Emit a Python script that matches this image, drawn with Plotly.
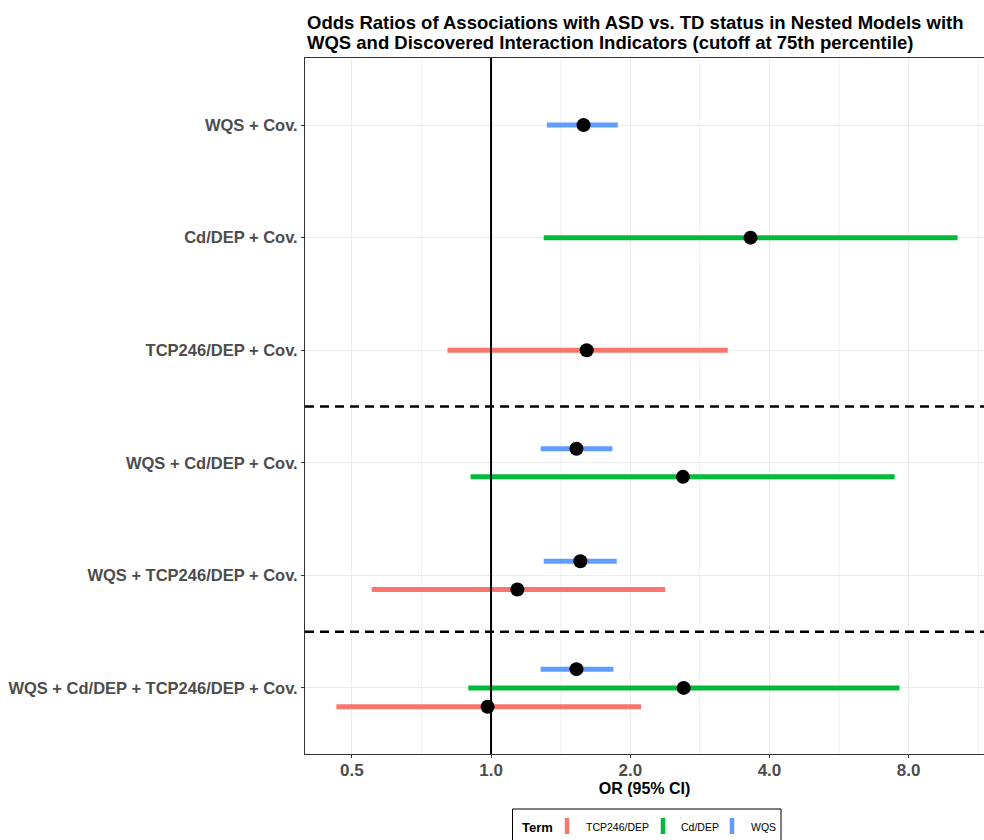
import numpy as np
import plotly.graph_objects as go

# ---- data ----
models = [
    "WQS + Cd/DEP + TCP246/DEP + Cov.",
    "WQS + TCP246/DEP + Cov.",
    "WQS + Cd/DEP + Cov.",
    "TCP246/DEP + Cov.",
    "Cd/DEP + Cov.",
    "WQS + Cov.",
]
terms = ["TCP246/DEP", "Cd/DEP", "WQS"]
term_colors = ["#F8766D", "#00BA38", "#619CFF"]

rows_model = ["WQS + Cov.", "Cd/DEP + Cov.", "TCP246/DEP + Cov.",
              "WQS + Cd/DEP + Cov.", "WQS + Cd/DEP + Cov.",
              "WQS + TCP246/DEP + Cov.", "WQS + TCP246/DEP + Cov.",
              "WQS + Cd/DEP + TCP246/DEP + Cov.", "WQS + Cd/DEP + TCP246/DEP + Cov.",
              "WQS + Cd/DEP + TCP246/DEP + Cov."]
rows_term = ["WQS", "Cd/DEP", "TCP246/DEP",
             "WQS", "Cd/DEP",
             "WQS", "TCP246/DEP",
             "WQS", "Cd/DEP", "TCP246/DEP"]
rows_or = [1.585, 3.64, 1.61, 1.53, 2.60, 1.56, 1.14, 1.53, 2.61, 0.983]
rows_lo = [1.32, 1.30, 0.805, 1.28, 0.903, 1.30, 0.552, 1.28, 0.893, 0.463]
rows_hi = [1.88, 10.2, 3.25, 1.83, 7.46, 1.87, 2.38, 1.84, 7.64, 2.11]

x_ticks = [0.5, 1.0, 2.0, 4.0, 8.0]
x_tick_labels = ["0.5", "1.0", "2.0", "4.0", "8.0"]
separators = [1.5, 3.5]

title_lines = ["Odds Ratios of Associations with ASD vs. TD status in Nested Models with",
               "WQS and Discovered Interaction Indicators (cutoff at 75th percentile)"]

colors = dict(zip(terms, term_colors))

# ---- figure geometry (page body margin removed via post_script) ----
W, H = 984, 840
ML, MR, MT, MB = 305, 0, 58, 86
PW, PH = W - ML - MR, H - MT - MB


def px(xpage):
    return (xpage - ML) / PW


def py(ypage):
    return (H - MB - ypage) / PH


# ---- dodge positions (width 0.5), WQS on top ----
dodge_w = 0.5
ypos = []
for m, t in zip(rows_model, rows_term):
    group = [tt for mm, tt in zip(rows_model, rows_term) if mm == m]
    order = [tt for tt in ["WQS", "Cd/DEP", "TCP246/DEP"] if tt in group]
    n = len(order)
    k = order.index(t)
    base = models.index(m) + 1
    ypos.append(base + dodge_w * ((n - 1) / 2 - k) / n)

fig = go.Figure()

for t in terms:
    xs, ys = [], []
    for i, tt in enumerate(rows_term):
        if tt == t:
            xs += [rows_lo[i], rows_hi[i], None]
            ys += [ypos[i], ypos[i], None]
    fig.add_trace(go.Scatter(x=xs, y=ys, mode="lines", name=t,
                             line=dict(color=colors[t], width=5),
                             showlegend=False, hoverinfo="skip"))

fig.add_trace(go.Scatter(x=rows_or, y=ypos, mode="markers",
                         marker=dict(color="black", size=14),
                         showlegend=False))

fig.add_shape(type="line", xref="x", yref="paper", x0=1, x1=1, y0=0, y1=1,
              line=dict(color="black", width=2))
for s in separators:
    fig.add_shape(type="line", xref="paper", yref="y", x0=0, x1=1, y0=s, y1=s,
                  line=dict(color="black", width=2.5, dash="9px,6px"))

# ---- title as two annotations ----
for line, yc in zip(title_lines, [23, 43]):
    fig.add_annotation(text=line, xref="paper", yref="paper",
                       x=px(305), y=py(yc), xanchor="left", yanchor="middle",
                       showarrow=False,
                       font=dict(size=18.5, color="black", weight="bold"))

# ---- manual legend (ggplot style, vertical key glyphs) ----
fig.add_shape(type="rect", xref="paper", yref="paper",
              x0=px(512.5), x1=px(781), y0=py(809), y1=py(870),
              line=dict(color="black", width=1), fillcolor="white", layer="below")
fig.add_annotation(text="Term", xref="paper", yref="paper", x=px(520), y=py(827),
                   xanchor="left", yanchor="middle", showarrow=False,
                   font=dict(size=13, color="black", weight="bold"))
glyph_x = [567, 663, 732]
label_x = [584, 679, 749]
for t, gx, lx in zip(terms, glyph_x, label_x):
    fig.add_shape(type="line", xref="paper", yref="paper",
                  x0=px(gx), x1=px(gx), y0=py(818), y1=py(834),
                  line=dict(color=colors[t], width=4.5))
    fig.add_annotation(text=t, xref="paper", yref="paper", x=px(lx), y=py(827),
                       xanchor="left", yanchor="middle", showarrow=False,
                       font=dict(size=10.5, color="black"))

minor_vals = [2 ** (k + 0.5) for k in range(-2, 4)]

fig.update_layout(
    width=W, height=H,
    margin=dict(l=ML, r=MR, t=MT, b=MB),
    paper_bgcolor="white", plot_bgcolor="white",
    font=dict(family="Liberation Sans, Arial, sans-serif", color="#4D4D4D"),
    showlegend=False,
    xaxis=dict(
        type="log",
        range=[np.log10(0.396), np.log10(11.64)],
        tickvals=x_ticks, ticktext=x_tick_labels,
        tickfont=dict(size=17, color="#4D4D4D", weight="bold"),
        ticks="outside", ticklen=3, tickcolor="#333333",
        ticklabelstandoff=-2,
        showgrid=True, gridcolor="#EBEBEB", gridwidth=1,
        minor=dict(tickvals=minor_vals, showgrid=True, gridcolor="#F2F2F2",
                   gridwidth=1, ticks=""),
        showline=True, linecolor="#333333", linewidth=1, mirror=True,
        zeroline=False,
        title=dict(text="OR (95% CI)", font=dict(size=16, color="black", weight="bold"),
                   standoff=2),
    ),
    yaxis=dict(
        range=[0.413, 6.596],
        tickvals=list(range(1, len(models) + 1)), ticktext=models,
        tickfont=dict(size=16.5, color="#4D4D4D", weight="bold"),
        ticks="outside", ticklen=3, tickcolor="#333333",
        showgrid=True, gridcolor="#EBEBEB", gridwidth=1,
        showline=True, linecolor="#333333", linewidth=1, mirror=False,
        zeroline=False,
    ),
)

fig.write_html(
    "out.html",
    config={"displayModeBar": False},
    post_script="document.body.style.margin='0';"
                "document.documentElement.style.overflow='hidden';",
)
